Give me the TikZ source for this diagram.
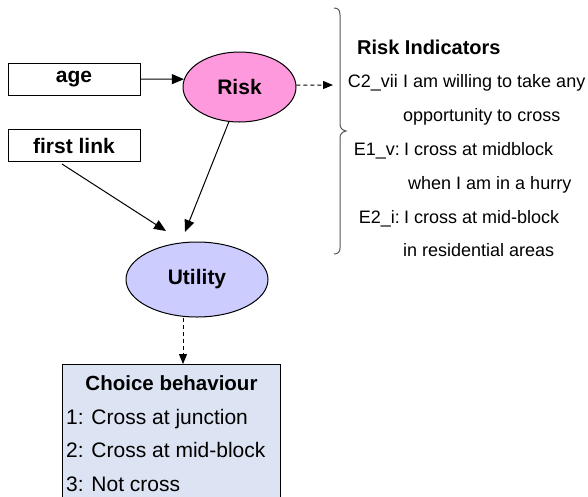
\documentclass[tikz,border=0pt]{standalone}
\usepackage{fontspec}
\setmainfont{Liberation Sans}
\usetikzlibrary{shapes.geometric,arrows.meta}
\definecolor{riskpink}{HTML}{FF99DD}
\definecolor{utilblue}{HTML}{CCCCFF}
\definecolor{choicefill}{HTML}{DCE3F2}
\definecolor{bracegray}{HTML}{555555}
\tikzset{
  inbox/.style={draw=black, line width=1pt, minimum width=132pt, minimum height=32pt, inner sep=0pt, font=\fontsize{21}{25}\selectfont\bfseries},
  latent/.style={ellipse, draw=black, line width=1pt, inner sep=0pt, font=\fontsize{21}{25}\selectfont\bfseries},
  bodytxt/.style={inner sep=0pt, font=\fontsize{18}{22}\selectfont},
  choicetxt/.style={inner sep=0pt, font=\fontsize{21}{25}\selectfont},
  solidarrow/.style={line width=1pt, -{Triangle[length=12pt,width=10pt]}},
  dasharrow/.style={line width=1pt, dash pattern=on 4pt off 3pt, -{Triangle[length=10pt,width=8pt]}}
}
\begin{document}
\begin{tikzpicture}[x=1pt,y=-1pt]
\useasboundingbox (0,0) rectangle (588,496);
% input boxes
\node[inbox] (age) at (74,79) {age};
\node[inbox] (first) at (74,145.5) {first link};
% latent variables
\node[latent, fill=riskpink, minimum width=113pt, minimum height=70pt] (risk) at (239.5,87) {Risk};
\node[latent, fill=utilblue, minimum width=142pt, minimum height=75pt] (util) at (197,279.5) {Utility};
% choice box
\node[draw=black, line width=1pt, fill=choicefill, minimum width=218pt, minimum height=141pt, anchor=north west, inner sep=0pt] (choice) at (62,364) {};
\node[choicetxt, font=\fontsize{20.5}{25}\selectfont\bfseries, anchor=base] (ctitle) at (171.5,390) {Choice behaviour};
\node[choicetxt, anchor=base west] (c1) at (66,424) {1: Cross at junction};
\node[choicetxt, anchor=base west] (c2) at (66,457) {2: Cross at mid-block};
\node[choicetxt, anchor=base west] (c3) at (66,491) {3: Not cross};
% risk indicators
\node[bodytxt, font=\fontsize{20}{24}\selectfont\bfseries, anchor=base west] (rhead) at (357,54) {Risk Indicators};
\node[bodytxt, anchor=base east] (l1) at (398,87) {C2\_vii};
\node[bodytxt, anchor=base west] (t1) at (403,87) {I am willing to take any};
\node[bodytxt, anchor=base west] (t1b) at (403,121) {opportunity to cross};
\node[bodytxt, anchor=base east] (l2) at (400,155) {E1\_v:};
\node[bodytxt, anchor=base west] (t2) at (404,155) {I cross at midblock};
\node[bodytxt, anchor=base west] (t2b) at (408,189) {when I am in a hurry};
\node[bodytxt, anchor=base east] (l3) at (400,223) {E2\_i:};
\node[bodytxt, anchor=base west] (t3) at (404,223) {I cross at mid-block};
\node[bodytxt, anchor=base west] (t3b) at (403,256) {in residential areas};
% brace
\draw[bracegray, line width=1pt] (334,8) .. controls (338,8) and (340,10) .. (340,15) -- (340,124) .. controls (340,128) and (342,130) .. (346,131) .. controls (342,132) and (340,134) .. (340,138) -- (340,248) .. controls (340,252) and (338,254) .. (334,254);
% connectors
\coordinate (riTip) at (333,85);
\coordinate (ruTip) at (185,232);
\coordinate (fuTip) at (166,231);
\coordinate (uOut) at ([xshift=-14pt]util.south);
\draw[solidarrow] (age.east) -- (risk.172);
\draw[dasharrow] (risk.2) -- (riTip);
\draw[solidarrow] (risk.-107) -- (ruTip);
\draw[solidarrow] ([xshift=-12pt,yshift=-2pt]first.south) -- (fuTip);
\draw[dasharrow] (uOut) -- (uOut |- choice.north);
\end{tikzpicture}
\end{document}
